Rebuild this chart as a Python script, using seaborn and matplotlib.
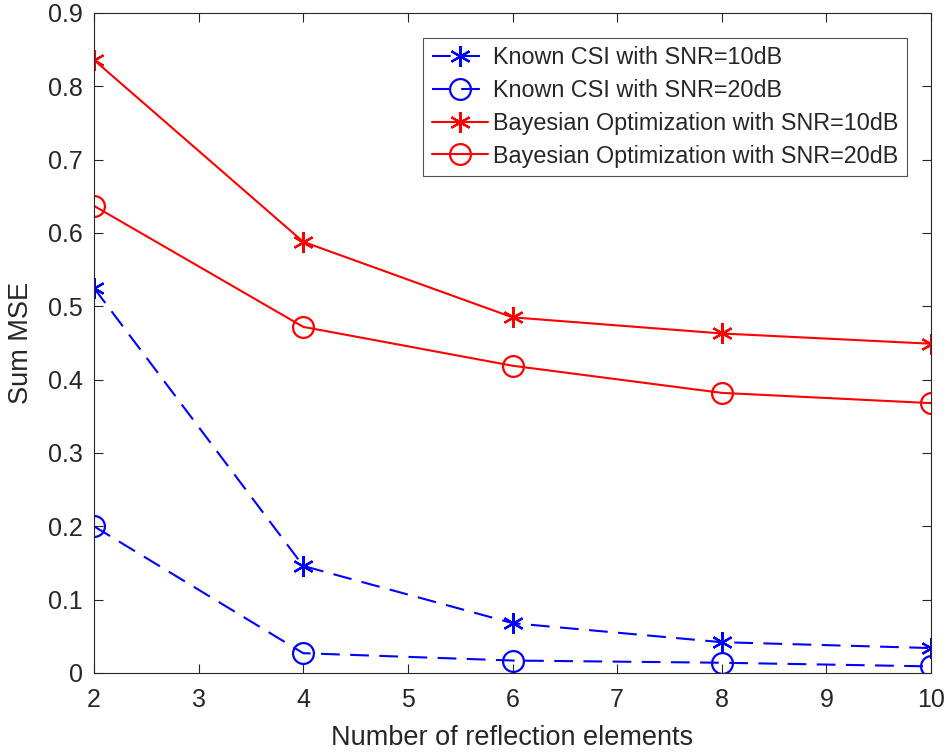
import matplotlib
matplotlib.use("Agg")
import matplotlib.pyplot as plt
import seaborn as sns
import pandas as pd

elements = [2, 4, 6, 8, 10]
csi_10db = [0.525, 0.146, 0.068, 0.042, 0.034]
csi_20db = [0.200, 0.027, 0.017, 0.014, 0.009]
bo_10db = [0.836, 0.588, 0.485, 0.463, 0.449]
bo_20db = [0.637, 0.472, 0.419, 0.382, 0.368]

labels = ["Known CSI with SNR=10dB", "Known CSI with SNR=20dB",
          "Bayesian Optimization with SNR=10dB", "Bayesian Optimization with SNR=20dB"]

sns.set_style("ticks")
plt.rcParams['font.family'] = ['Liberation Sans', 'DejaVu Sans']

df = pd.DataFrame({
    "n": elements * 4,
    "mse": csi_10db + csi_20db + bo_10db + bo_20db,
    "series": [l for l in labels for _ in elements],
})

fig = plt.figure(figsize=(9.48, 7.54), dpi=100)
ax = fig.add_axes([94 / 948, 1 - 673 / 754, 837 / 948, 660 / 754])

star = (6, 2, 0)
styles = {
    labels[0]: dict(color="#0000ff", dashed=True, marker=star, ms=15),
    labels[1]: dict(color="#0000ff", dashed=True, marker="o", ms=15),
    labels[2]: dict(color="#ff0000", dashed=False, marker=star, ms=15),
    labels[3]: dict(color="#ff0000", dashed=False, marker="o", ms=15),
}
for lab in labels:
    sub = df[df["series"] == lab]
    st = styles[lab]
    extra = {"dashes": (9, 5)} if st["dashed"] else {}
    sns.lineplot(data=sub, x="n", y="mse", ax=ax, label=lab, color=st["color"],
                 marker=st["marker"], markersize=st["ms"],
                 markerfacecolor="none", markeredgecolor=st["color"],
                 markeredgewidth=1.6, linewidth=1.5, **extra)

ax.set_xlim(2, 10)
ax.set_ylim(0, 0.9)
ax.set_xticks(range(2, 11))
ax.set_yticks([i / 10 for i in range(10)])
ax.set_yticklabels(["0"] + [f"{i/10:.1f}" for i in range(1, 10)])
ax.tick_params(direction="in", top=True, right=True, length=6.5, labelsize=18,
               colors="#262626", width=0.8)
ax.tick_params(axis="x", pad=11)
ax.tick_params(axis="y", pad=8)
for s in ax.spines.values():
    s.set_color("#262626")
    s.set_linewidth(0.8)
ax.set_xlabel("Number of reflection elements", fontsize=19.5, color="#262626", labelpad=9)
ax.set_ylabel("Sum MSE", fontsize=19.5, color="#262626", labelpad=10)

leg = ax.legend(loc="upper right", bbox_to_anchor=(0.9713, 0.962), borderaxespad=0,
                fontsize=16.8, frameon=True, fancybox=False, edgecolor="#262626",
                handlelength=2.4, borderpad=0.35, labelspacing=0.42, handletextpad=0.25)
leg.get_frame().set_linewidth(0.8)

fig.savefig("out.png", dpi=100)
